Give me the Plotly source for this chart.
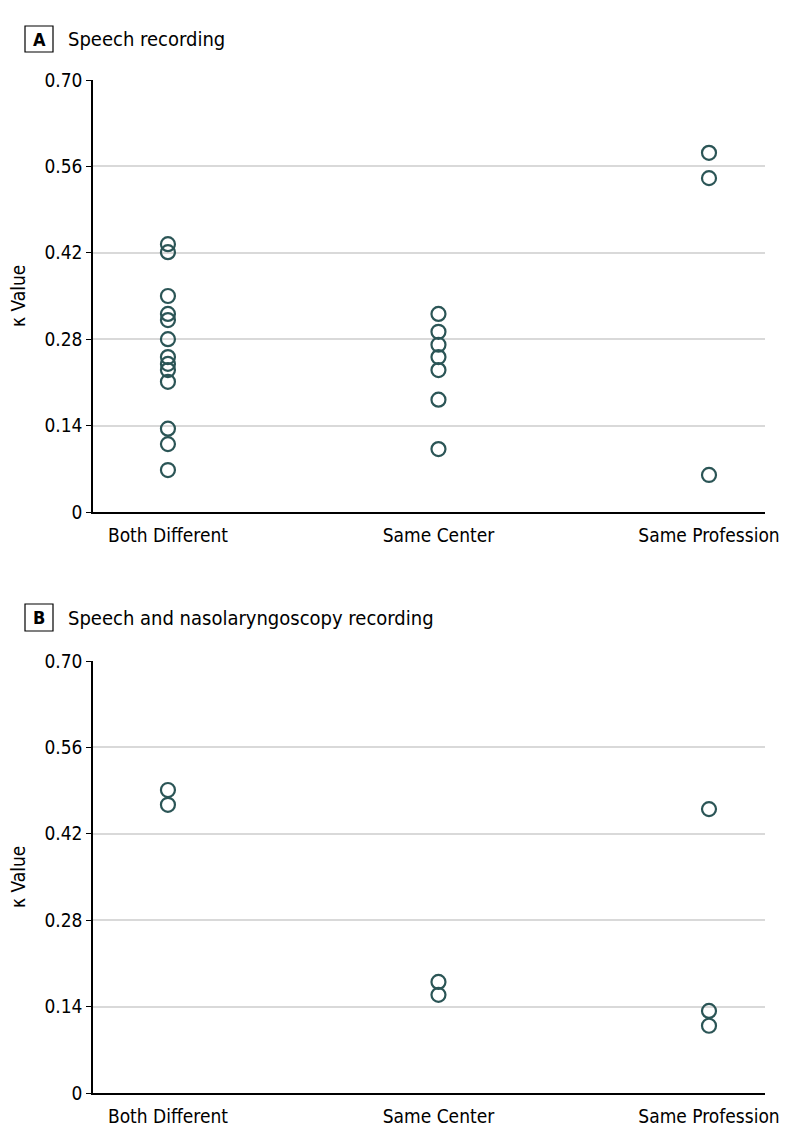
import plotly.graph_objects as go

categories = ["Both Different", "Same Center", "Same Profession"]
y_ticks = [0, 0.14, 0.28, 0.42, 0.56, 0.70]
y_tick_labels = ["0", "0.14", "0.28", "0.42", "0.56", "0.70"]

# Panel A: Speech recording
a_both_different = [0.434, 0.421, 0.350, 0.321, 0.311, 0.280, 0.251, 0.240, 0.230, 0.211, 0.135, 0.110, 0.068]
a_same_center = [0.321, 0.292, 0.271, 0.251, 0.230, 0.182, 0.102]
a_same_profession = [0.582, 0.541, 0.060]

# Panel B: Speech and nasolaryngoscopy recording
b_both_different = [0.491, 0.467]
b_same_center = [0.180, 0.159]
b_same_profession = [0.460, 0.133, 0.109]

panel_a = [a_both_different, a_same_center, a_same_profession]
panel_b = [b_both_different, b_same_center, b_same_profession]

FONT = "DejaVu Sans Condensed, Liberation Sans Narrow, Noto Sans, sans-serif"
MARKER_COLOR = "#2b5556"

# page body has an 8px margin; the figure is sized to fit the window
OFF = 8
W, H = 794 - OFF, 1144 - OFF


def px(x):
    return (x - OFF) / W


def py(y):
    return 1 - (y - OFF) / H


fig = go.Figure()

for panel, (xa, ya) in [(panel_a, ("x", "y")), (panel_b, ("x2", "y2"))]:
    for i, vals in enumerate(panel):
        fig.add_trace(go.Scatter(
            x=[categories[i]] * len(vals), y=vals, mode="markers",
            xaxis=xa, yaxis=ya, showlegend=False,
            marker=dict(symbol="circle-open", size=14, color=MARKER_COLOR,
                        line=dict(width=2.2, color=MARKER_COLOR)),
            cliponaxis=False,
        ))

xdom = [px(93), px(765)]
ya_dom = [py(512), py(80)]
yb_dom = [py(1093), py(661)]

xaxis_common = dict(
    type="category", categoryorder="array", categoryarray=categories,
    range=[-0.277, 2.207], showgrid=False, zeroline=False, automargin=False,
    showline=True, linecolor="black", linewidth=1.5, ticks="", ticklabelstandoff=5,
    tickfont=dict(family=FONT, size=19, color="black"), domain=xdom,
)
yaxis_common = dict(
    range=[0, 0.70], tickvals=y_ticks, ticktext=y_tick_labels, automargin=False,
    showgrid=True, gridcolor="#d9d9d9", gridwidth=1.5, zeroline=False,
    showline=True, linecolor="black", linewidth=1.5,
    ticks="outside", ticklen=5, tickcolor="black", tickwidth=1.2,
    tickfont=dict(family=FONT, size=19, color="black"),
)

fig.update_layout(
    template="none",
    width=W, height=H, autosize=False,
    margin=dict(l=0, r=0, t=0, b=0, pad=0),
    paper_bgcolor="white", plot_bgcolor="white",
    xaxis=dict(**xaxis_common, anchor="y"),
    yaxis=dict(**yaxis_common, domain=ya_dom, anchor="x"),
    xaxis2=dict(**xaxis_common, anchor="y2"),
    yaxis2=dict(**yaxis_common, domain=yb_dom, anchor="x2"),
)

# Y axis titles
for dom in (ya_dom, yb_dom):
    fig.add_annotation(text="κ Value", xref="paper", yref="paper",
                       x=px(18), y=(dom[0] + dom[1]) / 2, textangle=-90,
                       xanchor="center", yanchor="middle", showarrow=False,
                       font=dict(family=FONT, size=19, color="black"))

# Panel labels
for letter, title, ytop, ybot in [("A", "Speech recording", 26, 52),
                                    ("B", "Speech and nasolaryngoscopy recording", 604, 631)]:
    fig.add_shape(type="rect", xref="paper", yref="paper",
                  x0=px(25), x1=px(53), y0=py(ybot), y1=py(ytop),
                  line=dict(color="black", width=1.2), fillcolor="white")
    yc = py((ytop + ybot) / 2)
    fig.add_annotation(text="<b>%s</b>" % letter, xref="paper", yref="paper",
                       x=px(39), y=yc, xanchor="center", yanchor="middle",
                       showarrow=False, font=dict(family=FONT, size=18, color="black"))
    fig.add_annotation(text=title, xref="paper", yref="paper",
                       x=px(66), y=yc, xanchor="left", yanchor="middle",
                       showarrow=False, font=dict(family=FONT, size=20, color="black"))

fig.write_html("out.html")
